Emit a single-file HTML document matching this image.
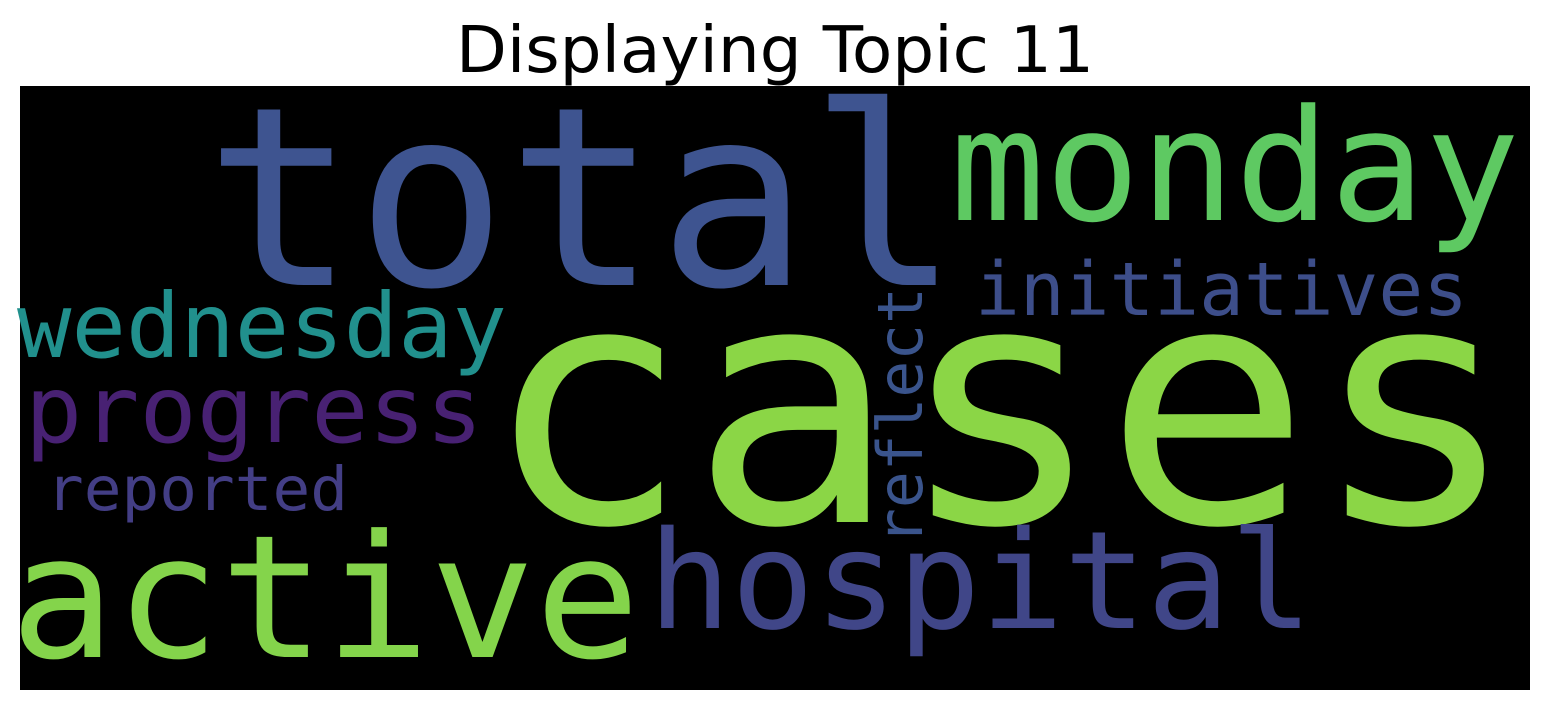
<!DOCTYPE html>
<html><head><meta charset="utf-8"><style>
html,body{margin:0;padding:0;background:#fff;width:1550px;height:710px;overflow:hidden}
svg{display:block}
</style></head><body>
<svg width="1550" height="710" xmlns="http://www.w3.org/2000/svg">
<text x="775" y="72" text-anchor="middle" font-family="'DejaVu Sans','Liberation Sans',sans-serif" font-size="64" textLength="638" lengthAdjust="spacingAndGlyphs" fill="#000">Displaying Topic 11</text>
<rect x="20" y="86" width="1510" height="604" fill="#000"/>
<g id="words" font-family="'DejaVu Sans Mono','Liberation Mono',monospace"></g>
</svg>
<script>
const words = ["total","cases","monday","initiatives","wednesday","progress","reported","active","hospital","reflect"];
const sizes = [250,335,155,74,89,93,61,171,136,62];
const colors = ["#3e5490","#8bd646","#5ec962","#3d4e8a","#21908d","#482173","#433e85","#84d44b","#404688","#3a548c"];
const layout = [
 [205,285,755,0],[483,522,1035,0],[950,220,570,0],[975,315,493,0],[17,357,490,0],
 [25,442,458,0],[46,510,302,0],[10,657,630,0],[648,628,665,0],[922,545,258,-90]
];
const g = document.getElementById('words');
words.forEach((w,i)=>{
  const t = document.createElementNS('http://www.w3.org/2000/svg','text');
  const [x,y,len,rot] = layout[i];
  t.setAttribute('x', x);
  t.setAttribute('y', y);
  t.setAttribute('font-size', sizes[i]);
  t.setAttribute('fill', colors[i]);
  t.setAttribute('textLength', len);
  t.setAttribute('lengthAdjust', 'spacingAndGlyphs');
  if (rot) t.setAttribute('transform', `rotate(${rot} ${x} ${y})`);
  t.textContent = w;
  
  
  g.appendChild(t);
});
</script>
</body></html>
